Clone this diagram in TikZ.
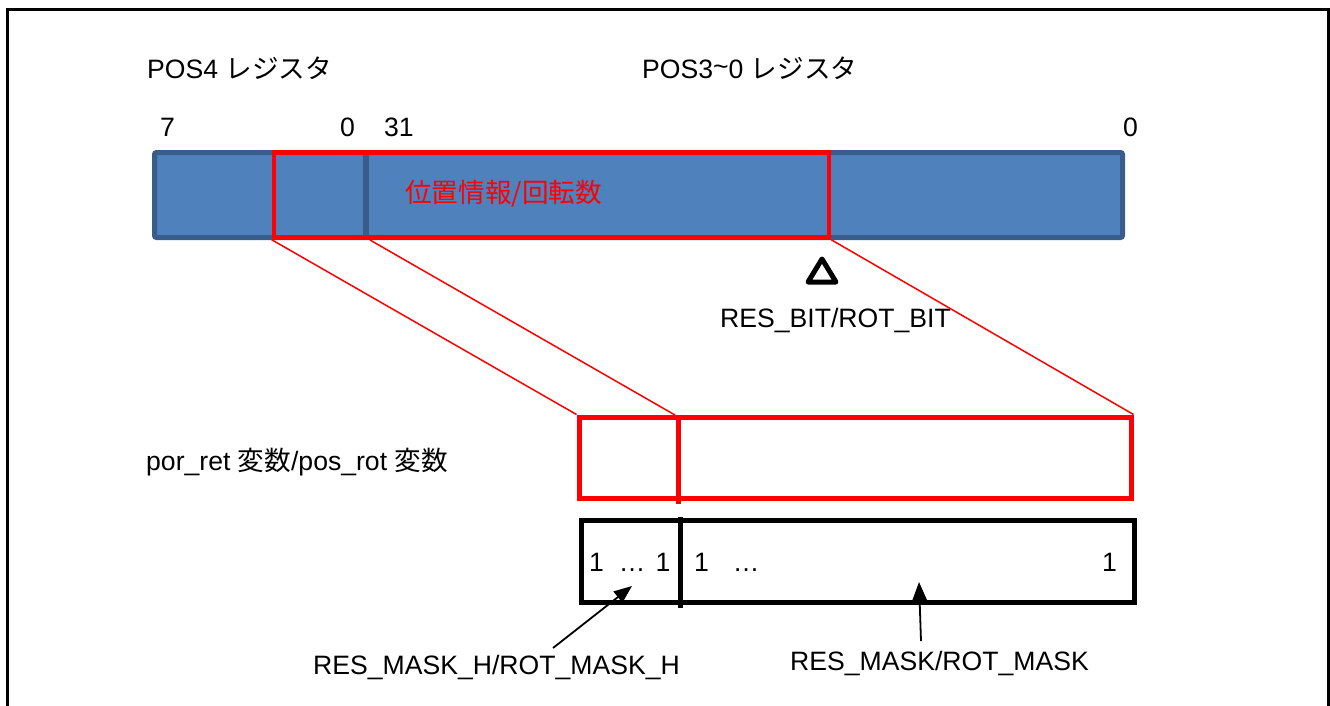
\documentclass[tikz,border=0pt]{standalone}
\usepackage{fontspec}
\setmainfont{Liberation Sans}
\newfontfamily\jp{Noto Sans CJK JP}
\usetikzlibrary{arrows.meta}
\definecolor{barblue}{HTML}{4F81BD}
\definecolor{barline}{HTML}{385D8A}
\definecolor{pured}{HTML}{FF0000}
\begin{document}
\begin{tikzpicture}[x=1pt,y=-1pt,
  txt/.style={inner sep=0pt,anchor=west,font=\fontsize{26.6}{30}\selectfont},
  redln/.style={draw=pured,line width=1.5pt},
  arr/.style={draw=black,line width=1.8pt,-{Triangle[length=18pt,width=14pt]}}]
\useasboundingbox (0,0) rectangle (1330,705);
% frame
\draw[line width=3pt] (7,712) -- (7,9) -- (1328,9) -- (1328,712);
% labels top
\node[txt] (pos4) at (147,68) {POS4 {\jp レジスタ}};
\node[txt] (pos3) at (642,68) {POS3\raisebox{0.2ex}{\char`~}0 {\jp レジスタ}};
\node[txt] (b7) at (160,127) {7};
\node[txt] (b0a) at (340,127) {0};
\node[txt] (b31) at (384,127) {31};
\node[txt] (b0b) at (1123,127) {0};
% blue bar
\node[draw=barline,fill=barblue,line width=5pt,rounded corners=2pt,inner sep=0pt,
  minimum width=968pt,minimum height=85pt] (bar) at (638.5,195) {};
\draw[barline,line width=6pt] (366,153) -- (366,237);
% red selection
\node[draw=pured,line width=4.5pt,inner sep=0pt,minimum width=555pt,minimum height=85pt] (sel) at (551.5,195) {};
\node[txt,text=pured] (selt) at (405,194) {\jp 位置情報/回転数};
% triangle marker
\draw[line width=5pt,line join=round] (808,282) -- (836,282) -- (822,259) -- cycle;
\node[txt] (resbit) at (720,320) {RES\_BIT/ROT\_BIT};
% lower red box
\node[draw=pured,line width=5pt,inner sep=0pt,minimum width=552pt,minimum height=81pt] (var) at (855,457.5) {};
\draw[pured,line width=5pt] (678,415) -- (678,504);
\node[txt] (vart) at (146,462) {por\_ret {\jp 変数}/pos\_rot {\jp 変数}};
% red connectors
\coordinate (c1) at (370,240);
\coordinate (c2) at (675,415);
\draw[redln] (sel.south west) -- (var.north west);
\draw[redln] (c1) -- (c2);
\draw[redln] (sel.south east) -- (var.north east);
% black mask box
\node[draw=black,line width=5pt,inner sep=0pt,minimum width=553pt,minimum height=82pt] (mask) at (858,561.5) {};
\draw[line width=5pt] (680,517) -- (680,608);
\node[txt] (m1) at (589,562) {1\hspace{15pt}\ldots\hspace{10pt}1};
\node[txt] (m2) at (694,562) {1\hspace{24pt}\ldots};
\node[txt] (m3) at (1102,562) {1};
% arrows and labels
\node[txt] (lh) at (313,667) {RES\_MASK\_H/ROT\_MASK\_H};
\node[txt] (lm) at (790,663) {RES\_MASK/ROT\_MASK};
\coordinate (a1s) at (553,648);
\coordinate (a1e) at (632,586);
\coordinate (a2s) at (921,641);
\coordinate (a2e) at (919,582);
\draw[arr] (a1s) -- (a1e);
\draw[arr] (a2s) -- (a2e);
\end{tikzpicture}
\end{document}
